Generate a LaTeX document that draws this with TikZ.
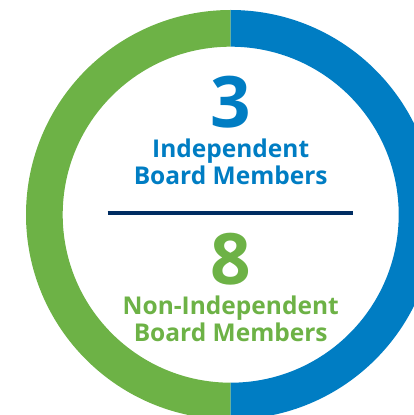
\documentclass[tikz,border=0pt]{standalone}
\usepackage{fontspec}
\newfontfamily\boardfont{Open Sans}
\definecolor{ringgreen}{RGB}{109,178,70}
\definecolor{ringblue}{RGB}{0,125,195}
\definecolor{rulenavy}{RGB}{0,45,98}
\tikzset{
  bignum/.style={anchor=base,font=\boardfont\bfseries\fontsize{71}{71}\selectfont,inner sep=0pt},
  boardlbl/.style={anchor=base,font=\boardfont\bfseries\fontsize{24.5}{27}\selectfont,inner sep=0pt}
}
\begin{document}
\begin{tikzpicture}[x=1pt,y=1pt]
\useasboundingbox (0,0) rectangle (414,415);
\clip (0,0) rectangle (414,415);
\coordinate (c) at (230.7,200.3);
%ring
\fill[ringgreen] (c)++(0,204.7) arc[start angle=90,end angle=270,radius=204.7]
  --++(0,36.7) arc[start angle=270,end angle=90,radius=168]--cycle;
\fill[ringblue] (c)++(0,204.7) arc[start angle=90,end angle=-90,radius=204.7]
  --++(0,36.7) arc[start angle=-90,end angle=90,radius=168]--cycle;
%upper half
\node[bignum,text=ringblue] (three) at (230.7,287) {3};
\node[boardlbl,text=ringblue] (indep) at (230.7,257) {Independent};
\node[boardlbl,text=ringblue] (indepbm) at (230.7,230) {Board Members};
%divider
\coordinate (ruleL) at (107.7,201.7);
\coordinate (ruleR) at (352.7,201.7);
\draw[rulenavy,line width=4pt] (ruleL)--(ruleR);
%lower half
\node[bignum,text=ringgreen] (eight) at (230.7,130) {8};
\node[boardlbl,text=ringgreen] (nonindep) at (230.7,100) {Non-Independent};
\node[boardlbl,text=ringgreen] (nonindepbm) at (230.7,73) {Board Members};
\end{tikzpicture}
\end{document}
